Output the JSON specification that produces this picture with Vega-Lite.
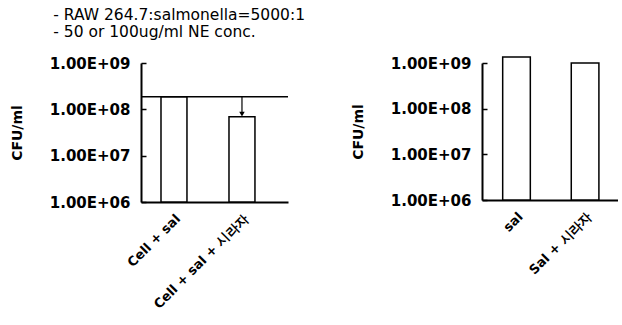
{
  "$schema": "https://vega.github.io/schema/vega-lite/v6.json",
  "padding": {"left": 10, "top": 7, "right": 0, "bottom": 0},
  "background": "white",
  "config": {
    "view": {"stroke": null},
    "font": "DejaVu Sans",
    "axis": {
      "domainColor": "black", "domainWidth": 2, "tickColor": "black", "tickWidth": 1.5,
      "labelColor": "black", "labelFont": "DejaVu Sans", "labelFontWeight": "bold", "labelFontSize": 15,
      "titleColor": "black", "titleFont": "DejaVu Sans", "titleFontWeight": "bold", "titleFontSize": 14,
      "grid": false
    },
    "axisX": {"ticks": false, "labelAngle": -45, "labelPadding": 10, "labelFontSize": 13, "title": null},
    "axisY": {"tickSize": -5, "labelPadding": 16, "titlePadding": 25}
  },
  "title": {
    "text": ["- RAW 264.7:salmonella=5000:1", "- 50 or 100ug/ml NE conc."],
    "anchor": "start", "dx": 43, "fontSize": 15.5, "fontWeight": "normal", "font": "DejaVu Sans",
    "color": "black", "lineHeight": 17, "offset": 16
  },
  "spacing": 62,
  "hconcat": [
    {
      "width": 147, "height": 139,
      "data": {"values": [
        {"group": "Cell + sal", "cfu": 1.87e8},
        {"group": "Cell + sal + 시라자", "cfu": 6.9e7}
      ]},
      "layer": [
        {
          "mark": {"type": "bar", "fill": "white", "stroke": "black", "strokeWidth": 1.5},
          "encoding": {
            "x": {"field": "group", "type": "nominal", "sort": null,
                  "scale": {"domain": ["Cell + sal", "Cell + sal + 시라자"], "paddingInner": 0.618, "paddingOuter": 0.39, "align": 0.377}},
            "y": {"field": "cfu", "type": "quantitative",
                  "scale": {"type": "log", "domain": [1e6, 1e9], "nice": false},
                  "axis": {"title": "CFU/ml", "values": [1e6, 1e7, 1e8, 1e9], "labelExpr": "'1.00E+0' + round(log(datum.value)/LN10)"}},
            "y2": {"datum": 1e6}
          }
        },
        {
          "data": {"values": [{"cfu": 1.87e8}]},
          "mark": {"type": "rule", "strokeWidth": 1.5, "color": "black"},
          "encoding": {"y": {"field": "cfu", "type": "quantitative"}}
        },
        {
          "data": {"values": [{"group": "Cell + sal + 시라자", "cfu": 1.87e8, "cfu2": 7.8e7}]},
          "mark": {"type": "rule", "strokeWidth": 1.2, "color": "black"},
          "encoding": {
            "x": {"field": "group", "type": "nominal"},
            "y": {"field": "cfu", "type": "quantitative"},
            "y2": {"field": "cfu2"}
          }
        },
        {
          "data": {"values": [{"group": "Cell + sal + 시라자", "cfu": 7.9e7}]},
          "mark": {"type": "point", "shape": "triangle-down", "filled": true, "color": "black", "size": 30, "opacity": 1},
          "encoding": {
            "x": {"field": "group", "type": "nominal"},
            "y": {"field": "cfu", "type": "quantitative"}
          }
        }
      ]
    },
    {
      "width": 136, "height": 137,
      "data": {"values": [
        {"group": "sal", "cfu": 1.35e9},
        {"group": "Sal + 시라자", "cfu": 1.0e9}
      ]},
      "mark": {"type": "bar", "fill": "white", "stroke": "black", "strokeWidth": 1.5, "clip": false},
      "encoding": {
        "x": {"field": "group", "type": "nominal", "sort": null,
              "scale": {"paddingInner": 0.597, "paddingOuter": 0.29, "align": 0.52}},
        "y": {"field": "cfu", "type": "quantitative",
              "scale": {"type": "log", "domain": [1e6, 1e9], "nice": false},
              "axis": {"title": "CFU/ml", "values": [1e6, 1e7, 1e8, 1e9], "labelExpr": "'1.00E+0' + round(log(datum.value)/LN10)"}},
        "y2": {"datum": 1e6}
      }
    }
  ]
}
